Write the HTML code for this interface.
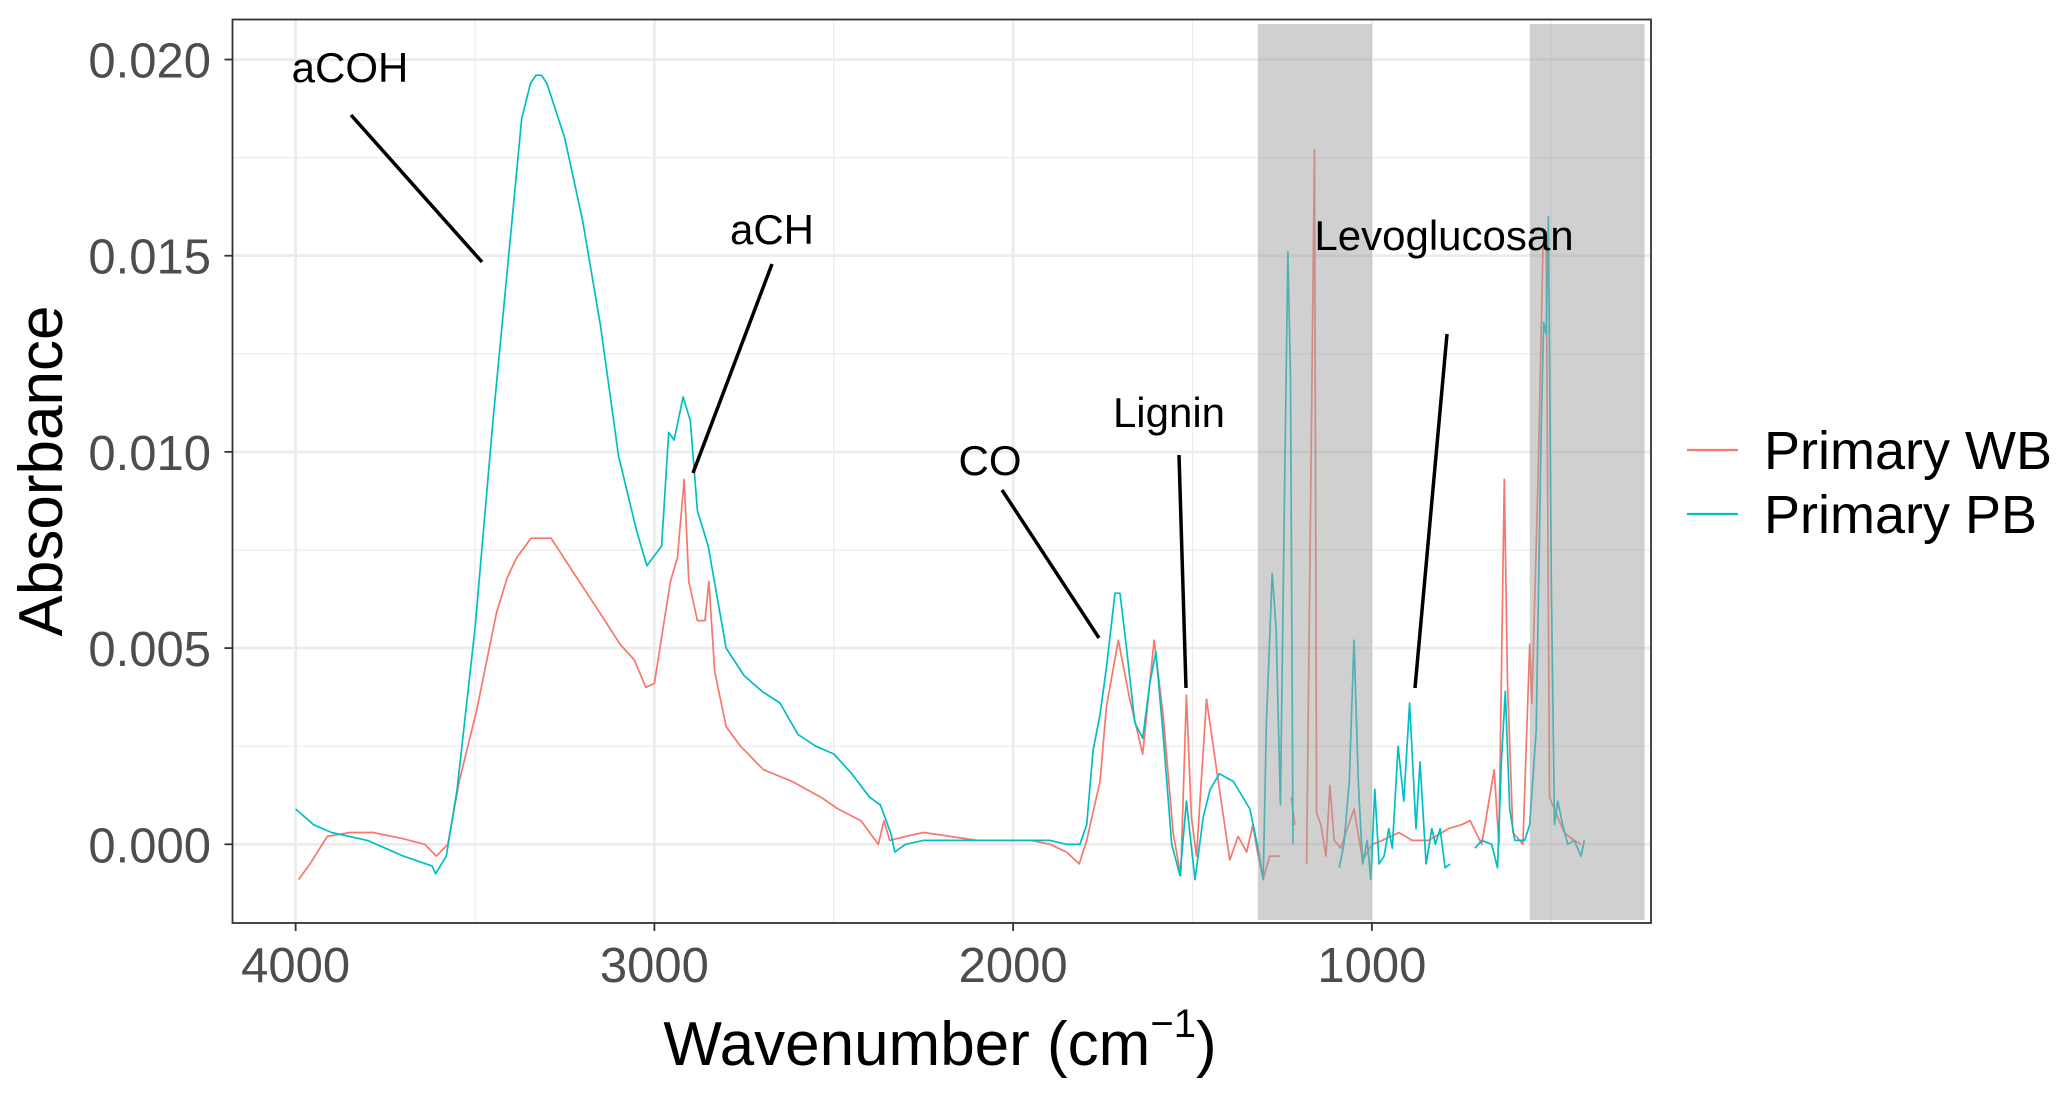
<!DOCTYPE html>
<html><head><meta charset="utf-8"><style>
html,body{margin:0;padding:0;background:#fff;}
svg{display:block;font-family:"Liberation Sans",sans-serif;}
</style></head><body>
<svg id="chart" width="2067" height="1095" viewBox="0 0 2067 1095" xmlns="http://www.w3.org/2000/svg"></svg>
<script>
// ---- data ----
const xTicks = [4000, 3000, 2000, 1000];
const xMinor = [3500, 2500, 1500, 500];
const yTicks = [0, 0.005, 0.010, 0.015, 0.020];
const yTickLabels = ["0.000", "0.005", "0.010", "0.015", "0.020"];
const yMinor = [0.0025, 0.0075, 0.0125, 0.0175];
const shadeRegions = [[1318, 1000], [560, 240]];
const seriesNames = ["Primary WB", "Primary PB"];

const wbWave = [3992,3960,3912,3848,3784,3704,3640,3608,3576,3544,3496,3440,3410,3384,3344,3288,3224,3152,3096,3056,3024,3000,2976,2955,2936,2917,2904,2880,2859,2848,2832,2800,2760,2696,2616,2536,2488,2424,2376,2360,2344,2300,2250,2100,1950,1897,1851,1816,1795,1758,1740,1707,1675,1639,1607,1582,1554,1533,1517,1503,1489,1461,1433,1396,1373,1349,1332,1317,1303,1285,1257,null,1225,1215,null,1182,1160,1154,1142,1128,1117,1105,1087,1050,1026,999,971,925,888,842,786,750,726,694,659,646,631,622,607,579,560,554,537,523,514,505,487,464,436,417];
const wbVal = [-0.0009,-0.0005,0.0002,0.0003,0.0003,0.00015,0.0,-0.0003,0.0,0.0016,0.0034,0.0059,0.0068,0.0073,0.0078,0.0078,0.0069,0.0059,0.0051,0.0047,0.0040,0.0041,0.0055,0.0067,0.0073,0.0093,0.0067,0.0057,0.0057,0.0067,0.0044,0.0030,0.0025,0.0019,0.0016,0.0012,0.0009,0.0006,0.0,0.0006,0.0001,0.0002,0.0003,0.0001,0.0001,0.0,-0.0002,-0.0005,0.0001,0.0016,0.0035,0.0052,0.0037,0.0023,0.0052,0.0033,0.0003,-0.0008,0.0038,0.0007,-0.0003,0.0037,0.0019,-0.0004,0.0002,-0.0002,0.0005,-0.0003,-0.0009,-0.0003,-0.0003,null,0.0012,0.0005,null,-0.0005,0.0177,0.0008,0.0005,-0.0003,0.0015,0.0001,-0.0001,0.0009,-0.0004,0.0,0.0001,0.0003,0.0001,0.0001,0.0004,0.0005,0.0006,0.0,0.0019,0.0,0.0093,0.0041,0.0003,0.0,0.0051,0.0036,0.0093,0.0152,0.0152,0.0012,0.0008,0.0003,0.0001,0.0];

const pbWave = [4000,3950,3900,3800,3700,3620,3610,3580,3550,3500,3450,3400,3370,3345,3330,3315,3300,3250,3200,3150,3100,3050,3021,2980,2960,2945,2920,2900,2880,2850,2800,2750,2700,2650,2600,2550,2500,2450,2400,2370,2340,2330,2300,2250,2100,1950,1897,1851,1814,1795,1777,1758,1740,1716,1702,1684,1661,1639,1619,1602,1582,1558,1535,1517,1493,1470,1451,1425,1386,1340,1313,1303,1294,1278,1267,1255,1243,1234,1227,1220,null,1091,1078,1063,1050,1038,1026,1013,1003,992,980,966,953,943,927,911,895,877,866,849,833,823,810,796,782,null,713,694,666,650,639,628,616,602,574,560,542,528,521,514,508,500,491,482,468,454,436,417,408];
const pbVal = [0.0009,0.0005,0.0003,0.0001,-0.0003,-0.00055,-0.00075,-0.0003,0.0014,0.0055,0.0108,0.0156,0.0185,0.0194,0.0196,0.0196,0.0194,0.0180,0.0159,0.0132,0.0099,0.0080,0.0071,0.0076,0.0105,0.0103,0.0114,0.0108,0.0085,0.0076,0.0050,0.0043,0.0039,0.0036,0.0028,0.0025,0.0023,0.0018,0.0012,0.0010,0.00025,-0.0002,0.0,0.0001,0.0001,0.0001,0.0001,0.0,0.0,0.0005,0.0024,0.0033,0.0045,0.0064,0.0064,0.0050,0.0031,0.0027,0.0041,0.0049,0.0028,0.0,-0.0008,0.0011,-0.0009,0.0007,0.0014,0.0018,0.0016,0.0009,-0.0003,-0.0009,0.0031,0.0069,0.0055,0.0010,0.0093,0.0151,0.0119,0.0,null,-0.0006,0.0,0.0016,0.0052,0.0016,-0.0005,0.0001,-0.0009,0.0014,-0.0005,-0.0003,0.0004,-0.0001,0.0025,0.0011,0.0036,0.0004,0.0021,-0.0005,0.0004,0.0,0.0004,-0.0006,-0.0005,null,-0.0001,0.0001,0.0,-0.0006,0.0021,0.0039,0.0009,0.0001,0.0001,0.0005,0.0029,0.0106,0.0133,0.0130,0.0160,0.0067,0.0005,0.0011,0.0005,0.0,0.0001,-0.0003,0.0001];

// ---- layout ----
const NS = "http://www.w3.org/2000/svg";
const svg = document.getElementById("chart");
const P = {l:232.5, r:1651, t:19.5, b:923};
const xDom = [4176, 222], yDom = [-0.002006, 0.02102];
function xs(w){ return P.l + (xDom[0]-w)/(xDom[0]-xDom[1])*(P.r-P.l); }
function ys(v){ return P.b - (v-yDom[0])/(yDom[1]-yDom[0])*(P.b-P.t); }
function mk(tag, attrs, parent){ const e=document.createElementNS(NS,tag); for(const k in attrs) e.setAttribute(k,attrs[k]); (parent||svg).appendChild(e); return e; }

const panel = mk("g",{});


mk("rect",{x:P.l,y:P.t,width:P.r-P.l,height:P.b-P.t,fill:"#fff"},panel);

yMinor.forEach(v=>{ const l=mk("line",{x1:P.l,x2:P.r,y1:ys(v),y2:ys(v),stroke:"#ebebeb","stroke-width":1.2},panel);
    });
xMinor.forEach(w=>{ const l=mk("line",{x1:xs(w),x2:xs(w),y1:P.t,y2:P.b,stroke:"#ebebeb","stroke-width":1.2},panel);
    });
yTicks.forEach(v=>{ const l=mk("line",{x1:P.l,x2:P.r,y1:ys(v),y2:ys(v),stroke:"#ebebeb","stroke-width":2.6},panel);
    });
xTicks.forEach(w=>{ const l=mk("line",{x1:xs(w),x2:xs(w),y1:P.t,y2:P.b,stroke:"#ebebeb","stroke-width":2.6},panel);
    });

function pathFrom(ws, vs){
  let d="", pen=false;
  for(let i=0;i<ws.length;i++){
    if(ws[i]===null||vs[i]===null){ pen=false; continue; }
    d += (pen?"L":"M") + xs(ws[i]).toFixed(1) + "," + ys(vs[i]).toFixed(1);
    pen=true;
  }
  return d;
}
const clip = mk("clipPath",{id:"pc"});
mk("rect",{x:P.l,y:P.t,width:P.r-P.l,height:P.b-P.t},clip);
const wb = mk("path",{d:pathFrom(wbWave,wbVal),fill:"none",stroke:"#F8766D","stroke-width":1.7,"stroke-linejoin":"round","clip-path":"url(#pc)"},panel);


const pb = mk("path",{d:pathFrom(pbWave,pbVal),fill:"none",stroke:"#00BFC4","stroke-width":1.7,"stroke-linejoin":"round","clip-path":"url(#pc)"},panel);



shadeRegions.forEach(r=>{
  const s=mk("rect",{x:xs(r[0]),y:24,width:xs(r[1])-xs(r[0]),height:896,fill:"#a2a2a2","fill-opacity":0.5},panel);
  
  
});

// annotations
const ann = [
  ["aCOH",350,82,351,115,482,262],
  ["aCH",772,244,772,264,693,473],
  ["CO",990,475,1002,490,1099,638],
  ["Lignin",1169,427,1179,455,1186,688],
  ["Levoglucosan",1444,250,1447,334,1415,688]
];
ann.forEach(a=>{
  const t=mk("text",{x:a[1],y:a[2],"text-anchor":"middle","font-size":42,fill:"#000"});
  t.textContent=a[0];
  
  
  const l=mk("line",{x1:a[3],y1:a[4],x2:a[5],y2:a[6],stroke:"#000","stroke-width":3.5});
  
  
});

const border=mk("rect",{x:P.l,y:P.t,width:P.r-P.l,height:P.b-P.t,fill:"none",stroke:"#333","stroke-width":1.8});



// axes
xTicks.forEach(w=>{
  const tk=mk("line",{x1:xs(w),x2:xs(w),y1:P.b,y2:P.b+8,stroke:"#333","stroke-width":1.8});
   
  const t=mk("text",{x:xs(w),y:982,"text-anchor":"middle","font-size":49,fill:"#4d4d4d"});
  t.textContent=String(w);
   
});
yTicks.forEach((v,i)=>{
  const tk=mk("line",{x1:P.l-8,x2:P.l,y1:ys(v),y2:ys(v),stroke:"#333","stroke-width":1.8});
   
  const t=mk("text",{x:211,y:ys(v)+18,"text-anchor":"end","font-size":49,fill:"#4d4d4d"});
  t.textContent=yTickLabels[i];
   
});
const xt=mk("text",{x:940,y:1065,"text-anchor":"middle","font-size":62,fill:"#000"});
xt.innerHTML='Wavenumber (cm<tspan dy="-28" font-size="40">−1</tspan><tspan dy="28">)</tspan>';
 
const yt=mk("text",{x:0,y:0,"text-anchor":"middle","font-size":62,fill:"#000",transform:"translate(62,471) rotate(-90)"});
yt.textContent="Absorbance";
 

// legend
const cols=["#F8766D","#00BFC4"], ly=[450,514];
seriesNames.forEach((n,i)=>{
  const g=mk("g",{});
  
  
  mk("line",{x1:1687,x2:1738,y1:ly[i],y2:ly[i],stroke:cols[i],"stroke-width":2.2},g);
  const t=mk("text",{x:1764,y:ly[i]+19,"font-size":54,fill:"#000"},g);
  t.textContent=n;
});
</script>
</body></html>
